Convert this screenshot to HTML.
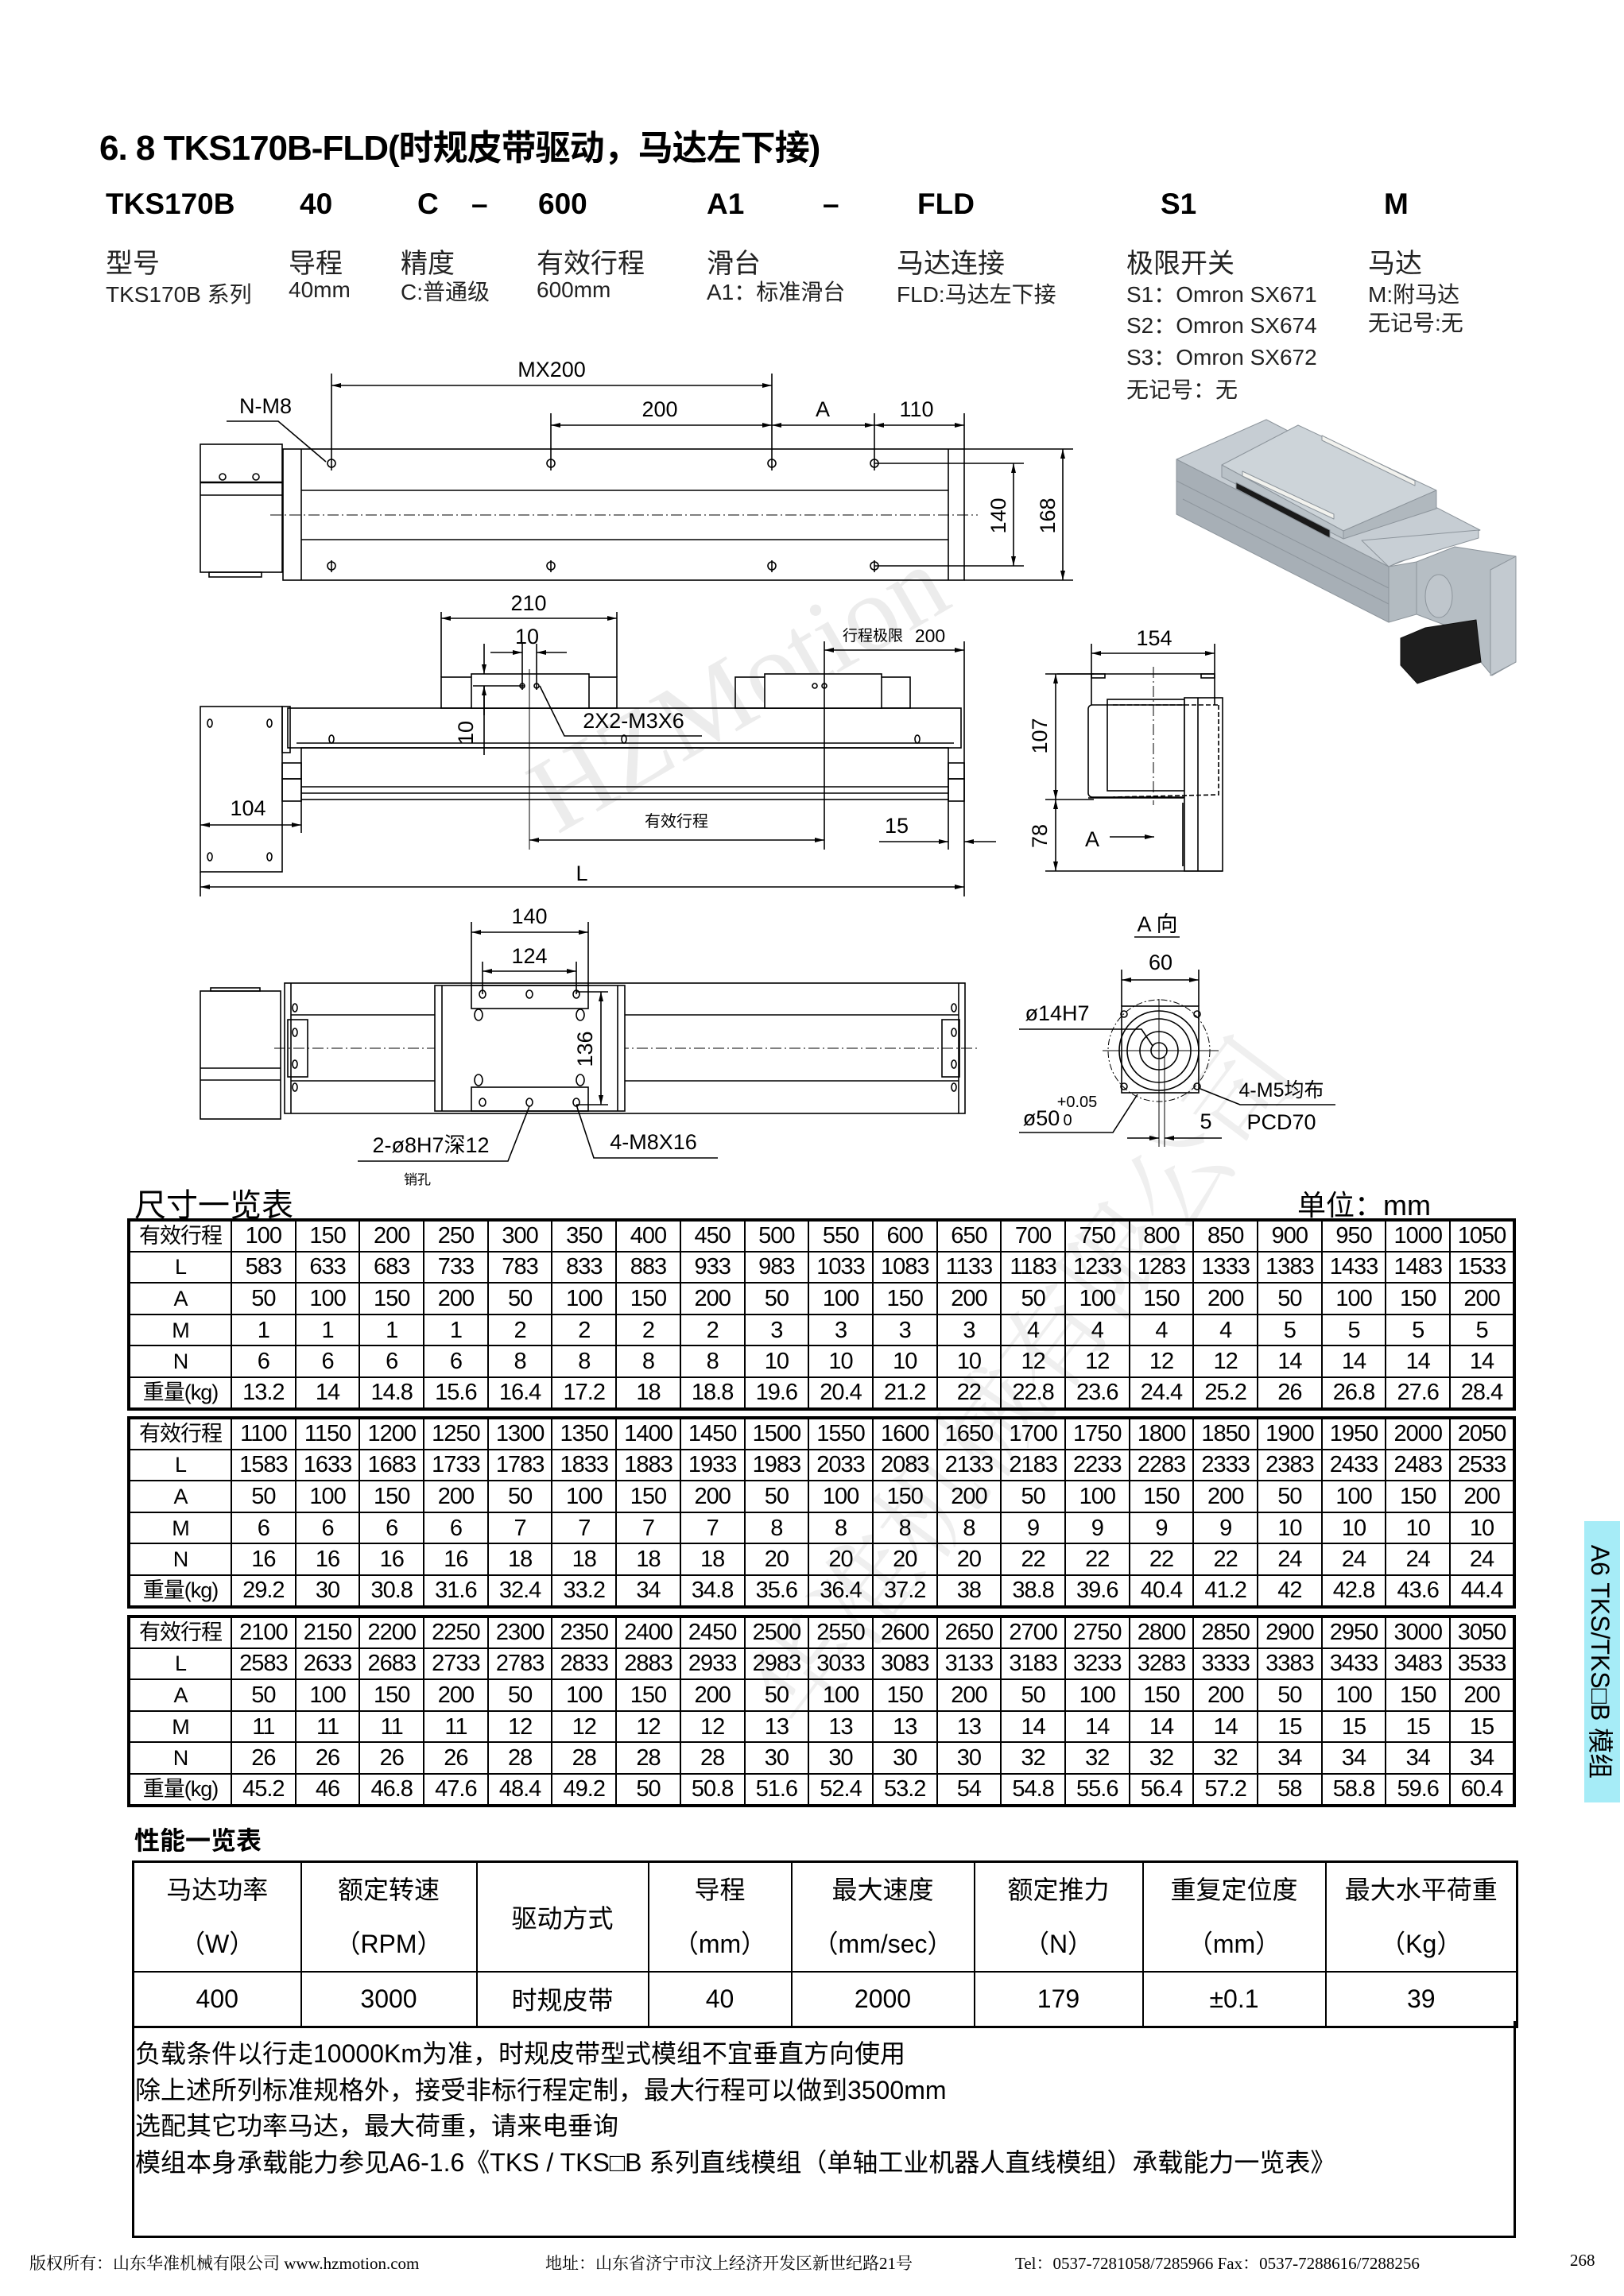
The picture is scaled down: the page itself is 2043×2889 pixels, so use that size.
<!DOCTYPE html>
<html><head><meta charset="utf-8">
<style>
*{margin:0;padding:0;box-sizing:border-box}
body{width:2043px;height:2889px;background:#fff;position:relative;overflow:hidden;font-family:"Liberation Sans","Noto Sans CJK SC",sans-serif;color:#000}
.a{position:absolute;white-space:nowrap}
.hd{font-weight:bold;font-size:37px}
.l1{font-size:34px;color:#222}
.l2{font-size:28px;color:#222}
table.t{position:absolute;left:160px;width:1747px;border-collapse:collapse;table-layout:fixed;border:4px solid #000}
table.t td{border:2px solid #000;height:39.6px;text-align:center;font-size:29px;letter-spacing:-1px;padding:0;line-height:36px;overflow:hidden}
table.t td:first-child{font-size:27px}
table.p{position:absolute;left:166px;top:2341px;width:1741px;border-collapse:collapse;table-layout:fixed;border:3px solid #000}
table.p td{border:2px solid #000;text-align:center;font-size:32px;padding:0}
</style></head><body>

<div class="a" style="left:640px;top:790px;font-family:'Liberation Serif',serif;font-size:135px;color:#ececec;transform:rotate(-30deg);transform-origin:center">HZMotion</div>
<div class="a" style="left:760px;top:1640px;font-family:'Noto Serif CJK SC',serif;font-size:130px;color:#efefef;transform:rotate(-53deg);transform-origin:center">华准机械有限公司</div>

<div class="a" style="left:125px;top:150px;font-size:44px;font-weight:bold;letter-spacing:-1px">6. 8 TKS170B-FLD(时规皮带驱动，马达左下接)</div>

<div class="a hd" style="left:133px;top:236px">TKS170B</div>
<div class="a hd" style="left:377px;top:236px">40</div>
<div class="a hd" style="left:525px;top:236px">C</div>
<div class="a hd" style="left:593px;top:236px">–</div>
<div class="a hd" style="left:677px;top:236px">600</div>
<div class="a hd" style="left:889px;top:236px">A1</div>
<div class="a hd" style="left:1035px;top:236px">–</div>
<div class="a hd" style="left:1154px;top:236px">FLD</div>
<div class="a hd" style="left:1460px;top:236px">S1</div>
<div class="a hd" style="left:1741px;top:236px">M</div>

<div class="a l1" style="left:133px;top:304px">型号</div>
<div class="a l1" style="left:363px;top:304px">导程</div>
<div class="a l1" style="left:504px;top:304px">精度</div>
<div class="a l1" style="left:675px;top:304px">有效行程</div>
<div class="a l1" style="left:889px;top:304px">滑台</div>
<div class="a l1" style="left:1128px;top:304px">马达连接</div>
<div class="a l1" style="left:1417px;top:304px">极限开关</div>
<div class="a l1" style="left:1721px;top:304px">马达</div>

<div class="a l2" style="left:133px;top:349px">TKS170B 系列</div>
<div class="a l2" style="left:363px;top:349px">40mm</div>
<div class="a l2" style="left:504px;top:346px">C:普通级</div>
<div class="a l2" style="left:675px;top:349px">600mm</div>
<div class="a l2" style="left:889px;top:346px">A1：标准滑台</div>
<div class="a l2" style="left:1128px;top:349px">FLD:马达左下接</div>
<div class="a l2" style="left:1417px;top:349px">S1：Omron SX671</div>
<div class="a l2" style="left:1721px;top:349px">M:附马达</div>
<div class="a l2" style="left:1417px;top:388px">S2：Omron SX674</div>
<div class="a l2" style="left:1721px;top:385px">无记号:无</div>
<div class="a l2" style="left:1417px;top:428px">S3：Omron SX672</div>
<div class="a l2" style="left:1417px;top:469px">无记号：无</div>

<svg class="a" style="left:0;top:0" width="2043" height="1500" viewBox="0 0 2043 1500" font-family="Liberation Sans, Noto Sans CJK SC, sans-serif">
<defs>
<marker id="ar" viewBox="0 0 12 6" refX="12" refY="3" markerWidth="12" markerHeight="6" markerUnits="userSpaceOnUse" orient="auto-start-reverse"><path d="M0,0 L12,3 L0,6z" fill="#000"/></marker>
</defs>
<g stroke="#000" stroke-width="1.6" fill="none">
<rect x="252" y="559" width="103" height="161"/>
<line x1="252" y1="607" x2="355" y2="607" stroke-width="2.5"/><line x1="252" y1="623" x2="355" y2="623"/>
<circle cx="280" cy="600" r="4"/><circle cx="322" cy="600" r="4"/>
<rect x="263" y="720" width="66" height="6"/>
<rect x="356" y="565" width="857" height="165"/>
<line x1="379" y1="565" x2="379" y2="730"/><line x1="1193" y1="565" x2="1193" y2="730"/>
<line x1="379" y1="617" x2="1193" y2="617"/><line x1="379" y1="679" x2="1193" y2="679"/>
<line x1="340" y1="648" x2="1230" y2="648" stroke-dasharray="14 4 2 4" stroke-width="1"/>
<g>
<circle cx="417" cy="583" r="5"/><circle cx="693" cy="583" r="5"/><circle cx="971" cy="583" r="5"/><circle cx="1100" cy="583" r="5"/>
<circle cx="417" cy="712" r="5"/><circle cx="693" cy="712" r="5"/><circle cx="971" cy="712" r="5"/><circle cx="1100" cy="712" r="5"/>
</g>
<line x1="417" y1="470" x2="417" y2="592"/><line x1="971" y1="470" x2="971" y2="592"/>
<line x1="693" y1="520" x2="693" y2="592"/><line x1="1100" y1="520" x2="1100" y2="592"/>
<line x1="1213" y1="520" x2="1213" y2="565"/>
<line x1="693" y1="705" x2="693" y2="720"/><line x1="971" y1="705" x2="971" y2="720"/><line x1="417" y1="705" x2="417" y2="720"/><line x1="1100" y1="705" x2="1100" y2="720"/>
<line x1="417" y1="485" x2="971" y2="485" marker-start="url(#ar)" marker-end="url(#ar)"/>
<line x1="693" y1="535" x2="971" y2="535" marker-start="url(#ar)" marker-end="url(#ar)"/>
<line x1="971" y1="535" x2="1100" y2="535" marker-start="url(#ar)" marker-end="url(#ar)"/>
<line x1="1100" y1="535" x2="1213" y2="535" marker-start="url(#ar)" marker-end="url(#ar)"/>
<polyline points="285,530 350,530 410,581"/>
<line x1="1100" y1="583" x2="1288" y2="583"/><line x1="1100" y1="712" x2="1288" y2="712"/>
<line x1="1213" y1="565" x2="1350" y2="565"/><line x1="1213" y1="730" x2="1350" y2="730"/>
<line x1="1275" y1="583" x2="1275" y2="712" marker-start="url(#ar)" marker-end="url(#ar)"/>
<line x1="1337" y1="565" x2="1337" y2="730" marker-start="url(#ar)" marker-end="url(#ar)"/>

<rect x="252" y="889" width="103" height="208"/>
<ellipse cx="264" cy="910" rx="3" ry="5"/><ellipse cx="339" cy="910" rx="3" ry="5"/><ellipse cx="264" cy="1078" rx="3" ry="5"/><ellipse cx="339" cy="1078" rx="3" ry="5"/>
<rect x="355" y="889" width="10" height="58"/>
<rect x="362" y="891" width="847" height="50"/>
<line x1="373" y1="935" x2="1200" y2="935"/>
<rect x="379" y="941" width="814" height="65"/>
<line x1="379" y1="990" x2="1193" y2="990"/><line x1="379" y1="998" x2="1193" y2="998"/>
<rect x="355" y="960" width="24" height="20"/><rect x="1193" y="960" width="20" height="20"/>
<rect x="355" y="980" width="24" height="28"/><rect x="1193" y="980" width="20" height="28"/>
<ellipse cx="417" cy="930" rx="3" ry="5"/><ellipse cx="785" cy="930" rx="3" ry="5"/><ellipse cx="1154" cy="930" rx="3" ry="5"/>
<rect x="555" y="852" width="221" height="39"/><rect x="593" y="848" width="148" height="43" fill="#fff"/>
<rect x="925" y="852" width="220" height="39"/><rect x="962" y="848" width="147" height="43" fill="#fff"/>
<circle cx="1025" cy="863" r="3"/><circle cx="1037" cy="863" r="3"/>
<circle cx="657" cy="863" r="3"/><circle cx="675" cy="863" r="3"/>
<line x1="555" y1="770" x2="555" y2="852"/><line x1="776" y1="770" x2="776" y2="852"/>
<line x1="555" y1="778" x2="776" y2="778" marker-start="url(#ar)" marker-end="url(#ar)"/>
<line x1="657" y1="810" x2="657" y2="868"/><line x1="675" y1="810" x2="675" y2="868"/>
<line x1="617" y1="821" x2="657" y2="821" marker-end="url(#ar)"/><line x1="713" y1="821" x2="675" y2="821" marker-end="url(#ar)"/>
<line x1="609" y1="810" x2="609" y2="848" marker-end="url(#ar)"/><line x1="609" y1="900" x2="609" y2="863" marker-end="url(#ar)"/>
<line x1="609" y1="863" x2="609" y2="950"/><line x1="595" y1="863" x2="660" y2="863"/>
<line x1="666" y1="842" x2="666" y2="1069" stroke-width="1"/>
<polyline points="679,863 710,926 883,926"/>
<line x1="1037" y1="807" x2="1037" y2="1069"/><line x1="1213" y1="807" x2="1213" y2="1128"/>
<line x1="1037" y1="818" x2="1213" y2="818" marker-start="url(#ar)" marker-end="url(#ar)"/>
<line x1="666" y1="1057" x2="1037" y2="1057" marker-start="url(#ar)" marker-end="url(#ar)"/>
<line x1="379" y1="1006" x2="379" y2="1048"/>
<line x1="252" y1="1038" x2="379" y2="1038" marker-start="url(#ar)" marker-end="url(#ar)"/>
<line x1="1193" y1="1006" x2="1193" y2="1069"/>
<line x1="1106" y1="1059" x2="1193" y2="1059" marker-end="url(#ar)"/><line x1="1253" y1="1059" x2="1213" y2="1059" marker-end="url(#ar)"/>
<line x1="252" y1="1097" x2="252" y2="1128"/>
<line x1="252" y1="1116" x2="1213" y2="1116" marker-start="url(#ar)" marker-end="url(#ar)"/>

<line x1="1315" y1="848" x2="1376" y2="848"/><line x1="1315" y1="1006" x2="1376" y2="1006"/><line x1="1315" y1="1096" x2="1538" y2="1096"/>
<line x1="1328" y1="848" x2="1328" y2="1006" marker-start="url(#ar)" marker-end="url(#ar)"/>
<line x1="1328" y1="1006" x2="1328" y2="1096" marker-start="url(#ar)" marker-end="url(#ar)"/>
<line x1="1330" y1="848" x2="1528" y2="848"/>
<rect x="1373" y="848" width="17" height="5"/><rect x="1511" y="848" width="17" height="5"/>
<rect x="1369" y="887" width="166" height="116" rx="5"/>
<rect x="1393" y="880" width="97" height="115"/>
<rect x="1490" y="878" width="48" height="218" fill="#fff"/>
<line x1="1507" y1="878" x2="1507" y2="1096"/>
<path d="M1400,887 L1533,887 M1533,887 L1533,1000 L1400,1003" stroke-dasharray="6 3"/>
<line x1="1369" y1="1004" x2="1489" y2="1004"/>
<line x1="1488" y1="1010" x2="1488" y2="1090"/>
<line x1="1451" y1="839" x2="1451" y2="1013" stroke-dasharray="14 4 2 4" stroke-width="1"/>
<line x1="1373" y1="810" x2="1373" y2="887"/><line x1="1528" y1="810" x2="1528" y2="887"/>
<line x1="1373" y1="822" x2="1528" y2="822" marker-start="url(#ar)" marker-end="url(#ar)"/>
<line x1="1396" y1="1053" x2="1452" y2="1053" marker-end="url(#ar)"/>

<rect x="252" y="1247" width="101" height="161"/>
<line x1="252" y1="1344" x2="353" y2="1344"/><line x1="252" y1="1359" x2="353" y2="1359"/>
<rect x="265" y="1243" width="62" height="4"/>
<rect x="358" y="1237" width="856" height="164"/>
<line x1="366" y1="1237" x2="366" y2="1401"/><line x1="1206" y1="1237" x2="1206" y2="1401"/>
<line x1="366" y1="1277" x2="547" y2="1277"/><line x1="786" y1="1277" x2="1206" y2="1277"/>
<line x1="366" y1="1360" x2="547" y2="1360"/><line x1="786" y1="1360" x2="1206" y2="1360"/>
<rect x="362" y="1283" width="25" height="72"/><rect x="1185" y="1283" width="22" height="72"/>
<ellipse cx="371" cy="1268" rx="3" ry="5"/><ellipse cx="371" cy="1299" rx="3" ry="5"/><ellipse cx="371" cy="1339" rx="3" ry="5"/><ellipse cx="371" cy="1368" rx="3" ry="5"/>
<ellipse cx="1200" cy="1268" rx="3" ry="5"/><ellipse cx="1200" cy="1299" rx="3" ry="5"/><ellipse cx="1200" cy="1339" rx="3" ry="5"/><ellipse cx="1200" cy="1368" rx="3" ry="5"/>
<line x1="345" y1="1319" x2="1230" y2="1319" stroke-dasharray="14 4 2 4" stroke-width="1"/>
<rect x="547" y="1240" width="239" height="158" fill="#fff"/>
<line x1="556" y1="1240" x2="556" y2="1398"/><line x1="777" y1="1240" x2="777" y2="1398"/>
<rect x="593" y="1240" width="147" height="29"/><rect x="593" y="1368" width="147" height="30"/>
<g>
<ellipse cx="607" cy="1251" rx="4" ry="5"/><ellipse cx="666" cy="1251" rx="4" ry="5"/><ellipse cx="725" cy="1251" rx="4" ry="5"/>
<ellipse cx="607" cy="1387" rx="4" ry="5"/><ellipse cx="666" cy="1387" rx="4" ry="5"/><ellipse cx="725" cy="1387" rx="4" ry="5"/>
<ellipse cx="602" cy="1277" rx="5" ry="7"/><ellipse cx="730" cy="1277" rx="5" ry="7"/>
<ellipse cx="602" cy="1359" rx="5" ry="7"/><ellipse cx="730" cy="1359" rx="5" ry="7"/>
</g>
<line x1="593" y1="1160" x2="593" y2="1240"/><line x1="740" y1="1160" x2="740" y2="1240"/>
<line x1="593" y1="1173" x2="740" y2="1173" marker-start="url(#ar)" marker-end="url(#ar)"/>
<line x1="607" y1="1210" x2="607" y2="1251"/><line x1="725" y1="1210" x2="725" y2="1251"/>
<line x1="607" y1="1222" x2="725" y2="1222" marker-start="url(#ar)" marker-end="url(#ar)"/>
<line x1="725" y1="1248" x2="765" y2="1248"/><line x1="725" y1="1390" x2="765" y2="1390"/>
<line x1="756" y1="1248" x2="756" y2="1390" marker-start="url(#ar)" marker-end="url(#ar)"/>
<polyline points="450,1461 639,1461 666,1392"/>
<polyline points="903,1457 747,1457 725,1390"/>

<line x1="1427" y1="1179" x2="1484" y2="1179"/>
<line x1="1411" y1="1220" x2="1411" y2="1266"/><line x1="1508" y1="1220" x2="1508" y2="1266"/>
<line x1="1411" y1="1233" x2="1508" y2="1233" marker-start="url(#ar)" marker-end="url(#ar)"/>
<rect x="1411" y="1266" width="97" height="109"/>
<circle cx="1458" cy="1322" r="64" stroke-dasharray="8 3 2 3" stroke-width="1"/>
<circle cx="1458" cy="1322" r="50"/>
<circle cx="1458" cy="1322" r="40"/>
<circle cx="1458" cy="1322" r="24"/>
<circle cx="1458" cy="1322" r="10"/>
<line x1="1387" y1="1322" x2="1533" y2="1322" stroke-width="1"/>
<line x1="1458" y1="1257" x2="1458" y2="1443" stroke-width="1"/>
<line x1="1465" y1="1330" x2="1465" y2="1443" stroke-width="1"/>
<circle cx="1414" cy="1276" r="4"/><circle cx="1506" cy="1276" r="4"/><circle cx="1414" cy="1367" r="4"/><circle cx="1506" cy="1367" r="4"/>
<polyline points="1282,1295 1436,1295 1450,1316"/>
<polyline points="1282,1425 1400,1425 1431,1377"/>
<polyline points="1680,1390 1560,1390 1510,1370"/>
<line x1="1418" y1="1432" x2="1458" y2="1432" marker-end="url(#ar)"/><line x1="1537" y1="1432" x2="1465" y2="1432" marker-end="url(#ar)"/>
</g>

<g font-size="27" fill="#000" stroke="none" text-anchor="middle">
<text x="694" y="474">MX200</text>
<text x="830" y="524">200</text>
<text x="1035" y="524">A</text>
<text x="1153" y="524">110</text>
<text x="334" y="520">N-M8</text>
<text transform="translate(1265,649) rotate(-90)">140</text>
<text transform="translate(1327,649) rotate(-90)">168</text>
<text x="665" y="768">210</text>
<text x="663" y="810">10</text>
<text transform="translate(595,922) rotate(-90)">10</text>
<text x="797" y="916">2X2-M3X6</text>
<text x="1170" y="808" font-size="23">200</text>
<text x="1098" y="806" font-size="19">行程极限</text>
<text x="851" y="1040" font-size="20">有效行程</text>
<text x="312" y="1026">104</text>
<text x="1128" y="1048">15</text>
<text x="732" y="1108">L</text>
<text transform="translate(1317,926) rotate(-90)">107</text>
<text transform="translate(1317,1052) rotate(-90)">78</text>
<text x="1452" y="812">154</text>
<text x="1374" y="1065">A</text>
<text x="666" y="1162">140</text>
<text x="666" y="1212">124</text>
<text transform="translate(745,1320) rotate(-90)">136</text>
<text x="542" y="1450">2-ø8H7深12</text>
<text x="525" y="1490" font-size="17">销孔</text>
<text x="822" y="1446">4-M8X16</text>
<text x="1456" y="1172">A 向</text>
<text x="1460" y="1220">60</text>
<text x="1330" y="1284">ø14H7</text>
<text x="1310" y="1416">ø50</text>
<text x="1355" y="1393" font-size="20">+0.05</text>
<text x="1343" y="1416" font-size="20">0</text>
<text x="1517" y="1420">5</text>
<text x="1612" y="1380" font-size="25">4-M5均布</text>
<text x="1612" y="1421">PCD70</text>
</g>

<!-- 3D render -->
<g stroke="#8d959c" stroke-width="1" stroke-linejoin="round">
<polygon points="1480,578 1593,528 1862,667 1747,713" fill="#c6cdd3"/>
<polygon points="1480,578 1747,713 1747,783 1480,647" fill="#a7afb6"/>
<line x1="1480" y1="605" x2="1747" y2="740"/>
<line x1="1488" y1="628" x2="1747" y2="760"/>
<polygon points="1713,680 1860,667 1860,677 1760,707 1747,713" fill="#c8cfd5"/>
<polygon points="1537,585 1633,535 1807,617 1690,668" fill="#cdd4d9"/>
<polygon points="1537,585 1690,668 1690,678 1537,600" fill="#b9c1c7"/>
<polygon points="1690,668 1807,617 1807,640 1690,678" fill="#b0b8be"/>
<polygon points="1555,607 1673,667 1673,677 1555,615" fill="#1a1a1a"/>
<polygon points="1563,593 1678,647 1678,653 1563,599" fill="#f2f2ee"/>
<polygon points="1663,548 1780,605 1780,611 1663,554" fill="#f2f2ee"/>
<polygon points="1747,713 1782,707 1782,773 1747,783" fill="#b3bbc1"/>
<polygon points="1782,707 1830,688 1907,700 1907,833 1877,850 1827,790 1782,773" fill="#b6bec4"/>
<polygon points="1875,717 1907,700 1907,833 1875,850" fill="#c3cad0"/>
<ellipse cx="1810" cy="750" rx="17" ry="27" fill="#bfc6cc"/>
<polygon points="1762,803 1793,790 1857,780 1863,833 1783,860 1762,837" fill="#1e1e1e" stroke="#111"/>
</g>
</svg>

<div class="a" style="left:169px;top:1484px;font-size:40px">尺寸一览表</div>
<div class="a" style="left:1632px;top:1488px;font-size:36px">单位：mm</div>

<table class="t" style="top:1533px"><colgroup><col style="width:129px"><col span="20"></colgroup>
<tr><td>有效行程</td><td>100</td><td>150</td><td>200</td><td>250</td><td>300</td><td>350</td><td>400</td><td>450</td><td>500</td><td>550</td><td>600</td><td>650</td><td>700</td><td>750</td><td>800</td><td>850</td><td>900</td><td>950</td><td>1000</td><td>1050</td></tr>
<tr><td>L</td><td>583</td><td>633</td><td>683</td><td>733</td><td>783</td><td>833</td><td>883</td><td>933</td><td>983</td><td>1033</td><td>1083</td><td>1133</td><td>1183</td><td>1233</td><td>1283</td><td>1333</td><td>1383</td><td>1433</td><td>1483</td><td>1533</td></tr>
<tr><td>A</td><td>50</td><td>100</td><td>150</td><td>200</td><td>50</td><td>100</td><td>150</td><td>200</td><td>50</td><td>100</td><td>150</td><td>200</td><td>50</td><td>100</td><td>150</td><td>200</td><td>50</td><td>100</td><td>150</td><td>200</td></tr>
<tr><td>M</td><td>1</td><td>1</td><td>1</td><td>1</td><td>2</td><td>2</td><td>2</td><td>2</td><td>3</td><td>3</td><td>3</td><td>3</td><td>4</td><td>4</td><td>4</td><td>4</td><td>5</td><td>5</td><td>5</td><td>5</td></tr>
<tr><td>N</td><td>6</td><td>6</td><td>6</td><td>6</td><td>8</td><td>8</td><td>8</td><td>8</td><td>10</td><td>10</td><td>10</td><td>10</td><td>12</td><td>12</td><td>12</td><td>12</td><td>14</td><td>14</td><td>14</td><td>14</td></tr>
<tr><td>重量(kg)</td><td>13.2</td><td>14</td><td>14.8</td><td>15.6</td><td>16.4</td><td>17.2</td><td>18</td><td>18.8</td><td>19.6</td><td>20.4</td><td>21.2</td><td>22</td><td>22.8</td><td>23.6</td><td>24.4</td><td>25.2</td><td>26</td><td>26.8</td><td>27.6</td><td>28.4</td></tr>
</table>

<table class="t" style="top:1782px"><colgroup><col style="width:129px"><col span="20"></colgroup>
<tr><td>有效行程</td><td>1100</td><td>1150</td><td>1200</td><td>1250</td><td>1300</td><td>1350</td><td>1400</td><td>1450</td><td>1500</td><td>1550</td><td>1600</td><td>1650</td><td>1700</td><td>1750</td><td>1800</td><td>1850</td><td>1900</td><td>1950</td><td>2000</td><td>2050</td></tr>
<tr><td>L</td><td>1583</td><td>1633</td><td>1683</td><td>1733</td><td>1783</td><td>1833</td><td>1883</td><td>1933</td><td>1983</td><td>2033</td><td>2083</td><td>2133</td><td>2183</td><td>2233</td><td>2283</td><td>2333</td><td>2383</td><td>2433</td><td>2483</td><td>2533</td></tr>
<tr><td>A</td><td>50</td><td>100</td><td>150</td><td>200</td><td>50</td><td>100</td><td>150</td><td>200</td><td>50</td><td>100</td><td>150</td><td>200</td><td>50</td><td>100</td><td>150</td><td>200</td><td>50</td><td>100</td><td>150</td><td>200</td></tr>
<tr><td>M</td><td>6</td><td>6</td><td>6</td><td>6</td><td>7</td><td>7</td><td>7</td><td>7</td><td>8</td><td>8</td><td>8</td><td>8</td><td>9</td><td>9</td><td>9</td><td>9</td><td>10</td><td>10</td><td>10</td><td>10</td></tr>
<tr><td>N</td><td>16</td><td>16</td><td>16</td><td>16</td><td>18</td><td>18</td><td>18</td><td>18</td><td>20</td><td>20</td><td>20</td><td>20</td><td>22</td><td>22</td><td>22</td><td>22</td><td>24</td><td>24</td><td>24</td><td>24</td></tr>
<tr><td>重量(kg)</td><td>29.2</td><td>30</td><td>30.8</td><td>31.6</td><td>32.4</td><td>33.2</td><td>34</td><td>34.8</td><td>35.6</td><td>36.4</td><td>37.2</td><td>38</td><td>38.8</td><td>39.6</td><td>40.4</td><td>41.2</td><td>42</td><td>42.8</td><td>43.6</td><td>44.4</td></tr>
</table>

<table class="t" style="top:2032px"><colgroup><col style="width:129px"><col span="20"></colgroup>
<tr><td>有效行程</td><td>2100</td><td>2150</td><td>2200</td><td>2250</td><td>2300</td><td>2350</td><td>2400</td><td>2450</td><td>2500</td><td>2550</td><td>2600</td><td>2650</td><td>2700</td><td>2750</td><td>2800</td><td>2850</td><td>2900</td><td>2950</td><td>3000</td><td>3050</td></tr>
<tr><td>L</td><td>2583</td><td>2633</td><td>2683</td><td>2733</td><td>2783</td><td>2833</td><td>2883</td><td>2933</td><td>2983</td><td>3033</td><td>3083</td><td>3133</td><td>3183</td><td>3233</td><td>3283</td><td>3333</td><td>3383</td><td>3433</td><td>3483</td><td>3533</td></tr>
<tr><td>A</td><td>50</td><td>100</td><td>150</td><td>200</td><td>50</td><td>100</td><td>150</td><td>200</td><td>50</td><td>100</td><td>150</td><td>200</td><td>50</td><td>100</td><td>150</td><td>200</td><td>50</td><td>100</td><td>150</td><td>200</td></tr>
<tr><td>M</td><td>11</td><td>11</td><td>11</td><td>11</td><td>12</td><td>12</td><td>12</td><td>12</td><td>13</td><td>13</td><td>13</td><td>13</td><td>14</td><td>14</td><td>14</td><td>14</td><td>15</td><td>15</td><td>15</td><td>15</td></tr>
<tr><td>N</td><td>26</td><td>26</td><td>26</td><td>26</td><td>28</td><td>28</td><td>28</td><td>28</td><td>30</td><td>30</td><td>30</td><td>30</td><td>32</td><td>32</td><td>32</td><td>32</td><td>34</td><td>34</td><td>34</td><td>34</td></tr>
<tr><td>重量(kg)</td><td>45.2</td><td>46</td><td>46.8</td><td>47.6</td><td>48.4</td><td>49.2</td><td>50</td><td>50.8</td><td>51.6</td><td>52.4</td><td>53.2</td><td>54</td><td>54.8</td><td>55.6</td><td>56.4</td><td>57.2</td><td>58</td><td>58.8</td><td>59.6</td><td>60.4</td></tr>
</table>

<div class="a" style="left:169px;top:2291px;font-size:32px;font-weight:bold">性能一览表</div>
<table class="p"><colgroup><col style="width:211px"><col style="width:221px"><col style="width:216px"><col style="width:180px"><col style="width:230px"><col style="width:212px"><col style="width:230px"><col style="width:241px"></colgroup>
<tr style="height:135px"><td style="line-height:68px">马达功率<br>（W）</td><td style="line-height:68px">额定转速<br>（RPM）</td><td>驱动方式</td><td style="line-height:68px">导程<br>（mm）</td><td style="line-height:68px">最大速度<br>（mm/sec）</td><td style="line-height:68px">额定推力<br>（N）</td><td style="line-height:68px">重复定位度<br>（mm）</td><td style="line-height:68px">最大水平荷重<br>（Kg）</td></tr>
<tr style="height:69px"><td>400</td><td>3000</td><td>时规皮带</td><td>40</td><td>2000</td><td>179</td><td>±0.1</td><td>39</td></tr>
</table>
<div class="a" style="left:166px;top:2543px;width:1741px;height:273px;border:3px solid #000;border-top:none"></div>
<div class="a" style="left:170px;top:2562px;font-size:32px;line-height:45.5px">负载条件以行走10000Km为准，时规皮带型式模组不宜垂直方向使用<br>除上述所列标准规格外，接受非标行程定制，最大行程可以做到3500mm<br>选配其它功率马达，最大荷重，请来电垂询<br>模组本身承载能力参见A6-1.6《TKS / TKS□B 系列直线模组（单轴工业机器人直线模组）承载能力一览表》</div>

<div class="a" style="left:1993px;top:1914px;width:45px;height:354px;background:#a6ecf7"></div>
<div class="a" style="left:2015px;top:2091px;font-size:32px;transform:translate(-50%,-50%) rotate(90deg)">A6 TKS/TKS□B 模组</div>

<div class="a" style="left:37px;top:2832px;font-size:21px;font-family:'Liberation Serif','Noto Serif CJK SC',serif">版权所有：山东华准机械有限公司 www.hzmotion.com</div>
<div class="a" style="left:686px;top:2832px;font-size:21px;font-family:'Liberation Serif','Noto Serif CJK SC',serif">地址：山东省济宁市汶上经济开发区新世纪路21号</div>
<div class="a" style="left:1277px;top:2832px;font-size:21px;font-family:'Liberation Serif','Noto Serif CJK SC',serif">Tel：0537-7281058/7285966 Fax：0537-7288616/7288256</div>
<div class="a" style="left:1975px;top:2832px;font-size:21px;font-family:'Liberation Serif',serif">268</div>
</body></html>
